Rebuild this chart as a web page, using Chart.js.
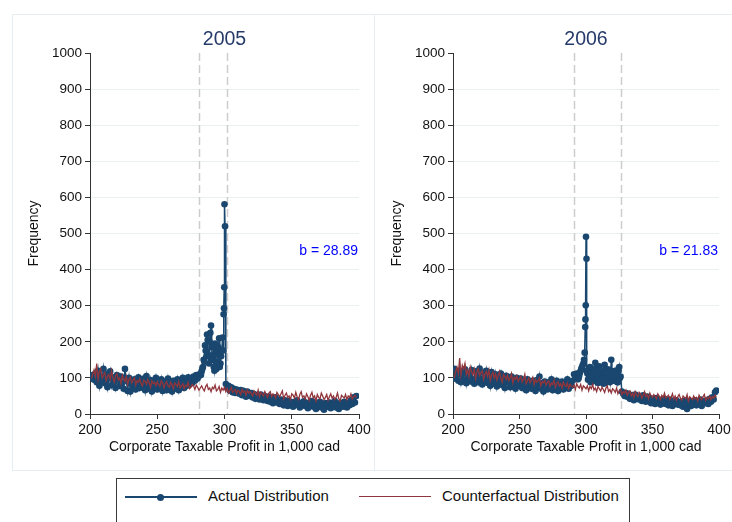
<!DOCTYPE html>
<html>
<head>
<meta charset="utf-8">
<script src="https://cdn.jsdelivr.net/npm/chart.js@4.4.1/dist/chart.umd.min.js"></script>
<style>
  html, body { margin:0; padding:0; background:#fff; width:732px; height:522px; overflow:hidden; font-family:"Liberation Sans", Arial, sans-serif; }
  .panel { position:absolute; border:1px solid #e6eef1; box-sizing:border-box; }
  canvas { position:absolute; }
  #legend { position:absolute; left:116px; top:478px; width:514px; height:70px; border:1px solid #3a3a3a; box-sizing:border-box; }
  .lg-line { position:absolute; height:0; }
  .lg-dot { position:absolute; width:7px; height:7px; border-radius:50%; background:#1a476f; }
  .lg-text { position:absolute; font-size:15px; color:#111; line-height:18px; white-space:nowrap; }
</style>
</head>
<body>
<div class="panel" style="left:12px; top:14px; width:363px; height:457px;"></div>
<div class="panel" style="left:374px; top:14px; width:370px; height:457px;"></div>
<canvas id="c2005" width="362" height="456" style="left:12px; top:14px; width:362px; height:456px;"></canvas>
<canvas id="c2006" width="362" height="456" style="left:375px; top:14px; width:362px; height:456px;"></canvas>
<div id="legend">
  <div class="lg-line" style="left:8px; top:17px; width:72px; border-top:2px solid #1a476f;"></div>
  <div class="lg-dot" style="left:40px; top:14.5px;"></div>
  <div class="lg-text" style="left:91px; top:8px;">Actual Distribution</div>
  <div class="lg-line" style="left:242px; top:17px; width:72px; border-top:1.5px solid #90353b;"></div>
  <div class="lg-text" style="left:325px; top:8px;">Counterfactual Distribution</div>
</div>
<script>
// ---- data ----
const yearTitles = ["2005", "2006"];
const bTexts = ["b = 28.89", "b = 21.83"];
const xTicks = [200, 250, 300, 350, 400];
const yTicks = [0, 100, 200, 300, 400, 500, 600, 700, 800, 900, 1000];
const windows2005 = [281.3, 301.6];
const windows2006 = [291.3, 326.2];

// bins: 201 .. 398 (1,000 cad)
const bins = [];
for (let v = 201; v <= 398; v++) bins.push(v);

const actual2005 = [
  100,108,95,112,88,120,78,105,92,125,
  85,110,74,98,118,80,102,90,72,108,
  95,78,104,86,70,125,92,64,100,62,
  88,75,96,68,85,102,72,90,78,98,
  66,105,82,70,94,62,88,76,100,68,
  84,72,96,64,90,78,66,98,74,86,
  62,92,80,70,96,66,88,74,100,72,
  90,78,102,82,96,86,104,92,108,98,
  105,112,118,130,145,175,220,160,200,245,
  150,130,195,125,165,210,140,175,176,581,
  83,72,78,65,74,60,70,58,68,62,
  56,66,52,64,58,48,62,54,50,58,
  46,55,42,52,48,40,54,44,38,50,
  42,36,48,34,44,30,40,46,32,38,
  28,40,34,24,38,30,22,36,26,32,
  20,34,28,38,24,18,30,26,35,22,
  28,16,32,24,36,20,26,14,30,22,
  34,18,26,12,30,24,20,32,16,28,
  22,36,18,26,14,30,24,20,34,26,
  18,30,24,38,28,46,32,50
];
// finer bins inside the bunching window
const extraX2005 = [282.5, 283.5, 284.5, 285.5, 286.5, 287.5, 288.5, 289.5, 290.5, 291.5, 292.5, 293.5, 294.5, 295.5, 296.5, 297.5, 298.5, 299.3, 299.6, 299.8, 300.4];
const extraY2005 = [108, 125, 150, 190, 160, 205, 140, 225, 185, 165, 120, 175, 145, 185, 130, 160, 212, 276, 293, 351, 520];

const counter2005 = [
  98,110,122,104,140,96,118,125,100,108,
  115,92,104,110,96,120,100,88,106,112,
  94,100,84,108,98,90,104,82,96,102,
  86,94,100,80,92,88,98,84,78,94,
  90,82,96,86,74,92,84,88,78,90,
  82,76,92,86,72,84,90,78,74,88,
  80,70,86,82,76,90,72,78,84,70,
  80,76,88,70,74,82,78,68,80,74,
  66,72,78,70,64,76,82,68,72,62,
  74,70,80,64,68,76,60,72,66,74,
  62,70,58,66,74,60,64,68,56,66,
  62,54,68,60,64,52,66,58,62,56,
  50,64,58,52,66,48,60,56,50,62,
  54,46,58,62,48,56,52,44,60,54,
  48,56,64,42,52,58,46,50,40,56,
  52,44,60,48,40,54,62,46,50,42,
  56,48,38,52,60,44,50,36,54,46,
  42,58,50,40,46,54,38,48,56,44,
  50,40,46,58,42,36,52,48,44,54,
  40,50,46,56,42,48,52,46
];

const actual2006 = [
  125,98,110,92,120,88,115,95,124,85,
  112,100,90,122,96,84,118,104,88,126,
  98,82,114,92,120,86,106,78,116,94,
  84,110,76,102,90,112,80,98,72,106,
  88,96,74,104,82,94,70,100,86,78,
  98,72,90,84,66,96,78,88,70,92,
  80,64,94,76,104,70,86,62,90,78,
  68,88,74,96,66,82,72,92,64,84,
  76,90,68,86,74,96,70,84,78,92,
  110,104,112,96,108,120,130,140,170,491,
  112,98,130,104,90,118,142,100,86,132,
  96,108,84,136,100,92,114,88,150,106,
  94,120,100,88,130,104,62,56,50,58,
  48,56,42,52,46,38,54,44,50,40,
  46,36,52,40,34,48,38,44,30,42,
  36,28,44,32,40,26,38,30,42,28,
  34,24,40,30,22,36,28,38,26,32,
  24,34,20,30,38,14,28,36,22,32,
  26,38,24,34,28,40,22,32,36,30,
  38,28,42,34,46,40,60,65
];
const extraX2006 = [294.5, 295.5, 296.5, 297.5, 298.5, 299.4, 299.6, 299.8, 300.4,
  300.6, 301.5, 302.5, 303.5, 304.5, 305.5, 306.5, 307.5, 308.5, 309.5, 310.5, 311.5, 312.5,
  313.5, 314.5, 315.5, 316.5, 317.5, 318.5, 319.5, 320.5, 321.5, 322.5, 323.5, 324.5, 325.5];
const extraY2006 = [100, 115, 125, 135, 150, 241, 262, 301, 430,
  120, 95, 110, 88, 115, 100, 125, 92, 105, 118, 90, 112, 98,
  120, 86, 108, 124, 96, 112, 118, 92, 104, 110, 88, 120, 100];

const counter2006 = [
  100,118,130,112,155,108,135,125,140,110,
  122,104,130,116,108,124,98,118,126,106,
  114,120,96,110,118,104,122,92,108,116,
  100,112,94,106,118,98,88,110,104,96,
  108,92,100,112,86,102,96,106,90,98,
  104,88,96,110,84,92,100,86,94,102,
  82,96,88,92,100,78,90,86,94,80,
  88,92,76,86,82,94,74,84,90,78,
  84,72,88,80,76,86,70,82,78,74,
  80,68,84,76,72,82,66,78,74,70,
  78,64,76,70,82,66,72,62,76,70,
  64,74,68,60,72,78,62,68,58,70,
  66,60,72,56,64,68,54,62,58,66,
  52,60,64,50,58,46,62,54,48,60,
  56,44,52,62,48,54,42,58,50,46,
  54,48,42,56,50,40,52,46,58,44,
  48,52,40,46,56,42,50,38,48,54,
  44,38,50,46,42,54,36,48,44,40,
  50,42,46,36,52,44,40,48,54,38,
  46,42,50,40,48,44,52,46
];

// ---- build ----
const FONT = '"Liberation Sans", Arial, sans-serif';
const BLUE = '#1a476f', RED = '#90353b';

function toPoints(xs, ys, ex, ey) {
  const pts = xs.map((x, i) => ({x: x, y: ys[i]}));
  if (ex) ex.forEach((x, i) => pts.push({x: x, y: ey[i]}));
  pts.sort((a, b) => a.x - b.x);
  return pts;
}

const decoPlugin = {
  id: 'deco',
  beforeDatasetsDraw(chart, args, opts) {
    const ctx = chart.ctx, xs = chart.scales.x, ca = chart.chartArea;
    ctx.save();
    ctx.strokeStyle = '#cdcdcd';
    ctx.lineWidth = 1.5;
    ctx.setLineDash([8, 4]);
    opts.windows.forEach(v => {
      const px = Math.round(xs.getPixelForValue(v)) + 0.5;
      ctx.beginPath(); ctx.moveTo(px, ca.top); ctx.lineTo(px, ca.bottom); ctx.stroke();
    });
    ctx.restore();
  },
  afterDraw(chart, args, opts) {
    const ctx = chart.ctx, ys = chart.scales.y, ca = chart.chartArea;
    ctx.save();
    ctx.font = '19.5px ' + FONT;
    ctx.fillStyle = '#263a6a';
    ctx.textAlign = 'center'; ctx.textBaseline = 'middle';
    ctx.fillText(opts.title, (ca.left + ca.right) / 2, ca.top - 13);
    ctx.font = '14px ' + FONT;
    ctx.fillStyle = '#0000ff';
    ctx.textAlign = 'right';
    ctx.fillText(opts.b, ca.right - 1, ys.getPixelForValue(450));
    ctx.restore();
  }
};

function makeChart(id, actual, counter, ex, ey, title, b, windows, padRight) {
  new Chart(document.getElementById(id), {
    type: 'line',
    data: {
      datasets: [
        { label: 'Counterfactual Distribution', data: toPoints(bins, counter), borderColor: RED, borderWidth: 1.3, pointRadius: 0, tension: 0, order: 1 },
        { label: 'Actual Distribution', data: toPoints(bins, actual, ex, ey), borderColor: BLUE, borderWidth: 1.5, pointRadius: 3.3, pointBackgroundColor: BLUE, pointBorderWidth: 0, pointHoverRadius: 3.3, tension: 0, order: 2 }
      ]
    },
    options: {
      responsive: false,
      animation: false,
      events: [],
      layout: { padding: { left: 10, top: 39, right: padRight, bottom: 8 } },
      plugins: {
        legend: { display: false },
        tooltip: { enabled: false },
        deco: { title: title, b: b, windows: windows }
      },
      scales: {
        x: {
          type: 'linear', min: 200, max: 400,
          afterBuildTicks: s => { s.ticks = xTicks.map(v => ({value: v})); },
          afterFit: s => { s.height = 48; },
          grid: { color: 'rgba(0,0,0,0)', tickColor: '#333', tickLength: 5, drawOnChartArea: false },
          border: { color: '#333', width: 1 },
          ticks: { font: { family: FONT, size: 14 }, color: '#111', padding: 3, maxRotation: 0, callback: v => String(v) },
          title: { display: true, text: 'Corporate Taxable Profit in 1,000 cad', font: { family: FONT, size: 14 }, color: '#111', padding: { top: 0, bottom: 6 } }
        },
        y: {
          min: 0, max: 1000,
          afterBuildTicks: s => { s.ticks = yTicks.map(v => ({value: v})); },
          afterFit: s => { s.width = 68; },
          grid: { color: c => (c.tick && (c.tick.value === 0 || c.tick.value === 1000)) ? 'rgba(0,0,0,0)' : '#e8f0f2', tickColor: '#333', tickLength: 5, lineWidth: 1 },
          border: { color: '#333', width: 1 },
          ticks: { font: { family: FONT, size: 13.5 }, color: '#111', padding: 3, callback: v => String(v) },
          title: { display: true, text: 'Frequency', font: { family: FONT, size: 14 }, color: '#111', padding: { top: 4, bottom: 0 } }
        }
      }
    },
    plugins: [decoPlugin]
  });
}

makeChart('c2005', actual2005, counter2005, extraX2005, extraY2005, yearTitles[0], bTexts[0], windows2005, 15);
makeChart('c2006', actual2006, counter2006, extraX2006, extraY2006, yearTitles[1], bTexts[1], windows2006, 18);
</script>
</body>
</html>
